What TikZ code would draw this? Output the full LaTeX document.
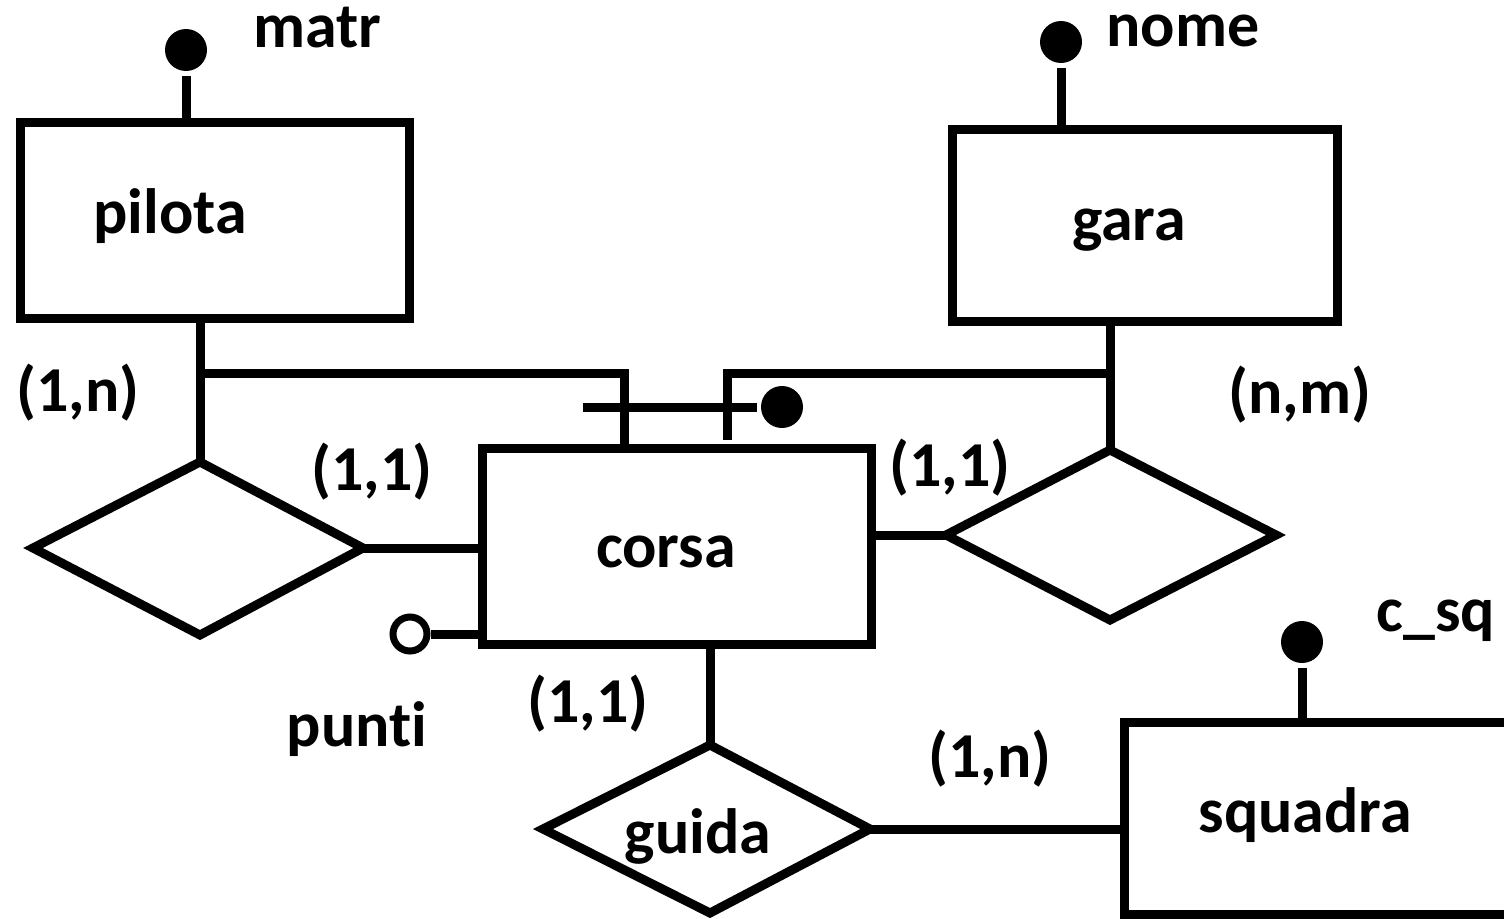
\documentclass[tikz,border=0pt]{standalone}
\usepackage{fontspec}
\setmainfont[Ligatures=NoCommon]{Carlito}
\usetikzlibrary{shapes.geometric}
\begin{document}
\begin{tikzpicture}[x=1pt,y=-1pt,line width=9pt,
  lbl/.style={font=\fontsize{64}{68}\selectfont\bfseries, inner sep=0pt, anchor=base},
  keydot/.style={circle, fill=black, minimum size=42pt, inner sep=0pt},
  optdot/.style={circle, draw, fill=white, line width=7pt, minimum size=34pt, inner sep=0pt}]
\useasboundingbox (0,0) rectangle (1504,918);
% entities
\draw (20,122) rectangle (409,318);
\coordinate (pil-b) at (200,318);
\coordinate (pil-t) at (186,122);
\draw (952,129) rectangle (1337,321);
\coordinate (gar-b) at (1110,321);
\coordinate (gar-t) at (1061,129);
\draw (482,448) rectangle (871,644);
\draw (1600,722) -- (1124,722) -- (1124,914) -- (1600,914);
\node[lbl] (pilota) at (170,233) {pilota};
\node[lbl] (gara) at (1129,240) {gara};
\node[lbl] (corsa) at (666,567) {corsa};
\node[lbl] (squadra) at (1305,832) {squadra};
% relationships (diamonds)
\draw (33,548) -- (200,462) -- (363,548) -- (200,635) -- cycle;
\draw (946,535) -- (1110,450) -- (1276,535) -- (1110,620) -- cycle;
\draw (543,829) -- (710,745) -- (870,829) -- (710,913) -- cycle;
\node[lbl] (guida) at (698,853) {guida};
\coordinate (d1t) at (200,462);
\coordinate (d1r) at (363,548);
\coordinate (d2t) at (1110,450);
\coordinate (d2l) at (946,535);
\coordinate (d3t) at (710,745);
\coordinate (d3r) at (870,829);
% connectors
\draw (pil-b) -- (d1t);
\draw (d1r) -- (482,548);
\draw (gar-b) -- (d2t);
\draw (871,535) -- (d2l);
\draw (710,644) -- (d3t);
\draw (d3r) -- (1124,829);
% identifier lines
\draw (200,373) -- (624,373) -- (624,448);
\draw (1110,373) -- (727,373) -- (727,440);
\node[keydot] (kid) at (782,407) {};
\draw (583,407) -- (kid);
% key attributes
\node[keydot] (kmatr) at (186,50) {};
\draw (kmatr) -- (pil-t);
\node[keydot] (knome) at (1061,42) {};
\draw (knome) -- (gar-t);
\node[keydot] (kcsq) at (1302,642) {};
\draw (kcsq) -- (1302,722);
\node[optdot] (kpunti) at (410,634) {};
\draw (kpunti) -- (482,634);
% attribute labels
\node[lbl] (matr) at (317,47) {matr};
\node[lbl] (nome) at (1183,46) {nome};
\node[lbl] (csq) at (1436,631) {c\_sq};
\node[lbl] (punti) at (357,746) {punti};
% cardinalities
\node[lbl] (c1) at (78,411) {(1,n)};
\node[lbl] (c2) at (372,490) {(1,1)};
\node[lbl] (c3) at (950,486) {(1,1)};
\node[lbl] (c4) at (1300,413) {(n,m)};
\node[lbl] (c5) at (588,722) {(1,1)};
\node[lbl] (c6) at (990,777) {(1,n)};
\end{tikzpicture}
\end{document}
